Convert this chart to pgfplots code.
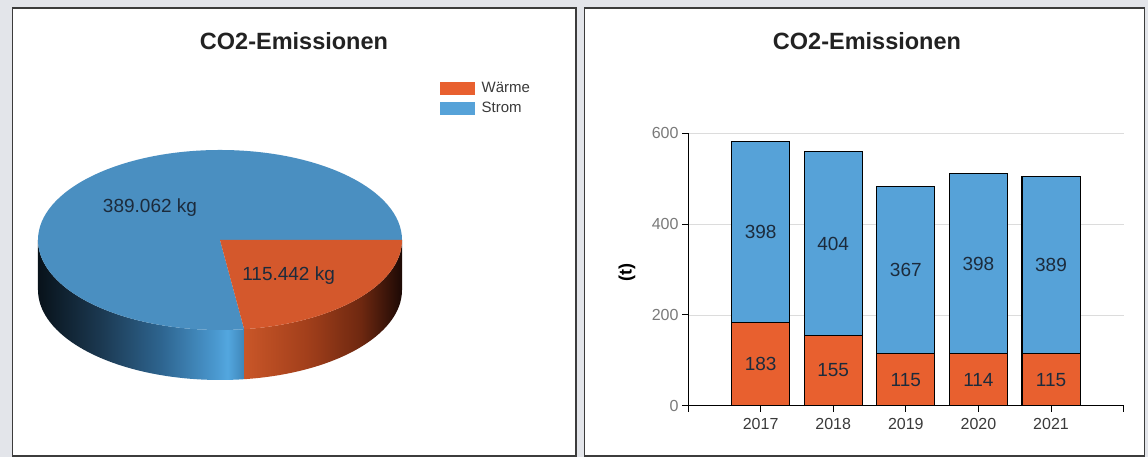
\documentclass[border=0pt]{standalone}
\usepackage{pgfplots}
\pgfplotsset{compat=1.18}
\usepackage{pgfplotstable}
\usepackage{fontspec}
\setmainfont{Liberation Sans}
\pgfplotsset{/pgf/number format/assume math mode=true}
\definecolor{bg}{HTML}{E3E5EA}
\definecolor{frame}{HTML}{3C3C3C}
\definecolor{titlec}{HTML}{222222}
\definecolor{pieblue}{HTML}{4A8FC1}
\definecolor{pieorange}{HTML}{D4582C}
\definecolor{barblue}{HTML}{56A2D8}
\definecolor{barorange}{HTML}{E8602F}
\definecolor{lbl}{HTML}{1C2B3C}
\definecolor{legc}{HTML}{3A3A3A}
\definecolor{xtl}{HTML}{3A3A3A}
\definecolor{ytl}{HTML}{7A7A7A}
\definecolor{gridc}{HTML}{DCDCDC}
\definecolor{sbA}{HTML}{08121A}
\definecolor{sbB}{HTML}{1B3850}
\definecolor{sbC}{HTML}{2E6590}
\definecolor{sbD}{HTML}{4A98CF}
\definecolor{sbE}{HTML}{53A7DF}
\definecolor{sbF}{HTML}{3F86B8}
\definecolor{soA}{HTML}{C95628}
\definecolor{soB}{HTML}{A23F1B}
\definecolor{soC}{HTML}{6E2810}
\definecolor{soD}{HTML}{1C0905}
\pgfdeclarehorizontalshading{blueside}{100bp}{color(0bp)=(sbA); color(25bp)=(sbA); color(40bp)=(sbB); color(55bp)=(sbC); color(68bp)=(sbD); color(71bp)=(sbE); color(75bp)=(sbF); color(100bp)=(sbF)}
\pgfdeclarehorizontalshading{orangeside}{100bp}{color(0bp)=(soA); color(25bp)=(soA); color(45bp)=(soB); color(62bp)=(soC); color(75bp)=(soD); color(100bp)=(soD)}
\newcommand\fs[1]{\fontsize{#1}{#1}\selectfont}

\pgfplotstableread{
part value
Waerme 115.442
Strom 389.062
}\piedata

\pgfplotstableread{
x year w s
0 2017 183 398
1 2018 155 404
2 2019 115 367
3 2020 114 398
4 2021 115 389
}\codata

\begin{document}%
\begin{tikzpicture}[x=1bp,y=1bp]
\pgfplotstablegetelem{0}{value}\of\piedata \let\vW\pgfplotsretval
\pgfplotstablegetelem{1}{value}\of\piedata \let\vS\pgfplotsretval
\pgfmathsetmacro\fracW{\vW/(\vW+\vS)}
\pgfmathsetmacro\angW{360*\fracW}
\pgfmathsetmacro\angB{360-\angW}
\fill[bg] (0,0) rectangle (1148,457);
\filldraw[fill=white, draw=frame, line width=1.5bp] (12.5,1) rectangle (576,449);
\filldraw[fill=white, draw=frame, line width=1.5bp] (584.5,1) rectangle (1144.5,449);
\node[font=\bfseries\fs{23.5bp}, text=titlec] at (294,416) {CO2-Emissionen};
\node[font=\bfseries\fs{23.5bp}, text=titlec] at (867,416) {CO2-Emissionen};
\coordinate (legL) at (440,376);
\coordinate (legR) at (908,375.5);

% ---------- pie ----------
\begin{axis}[at={(0,0)}, anchor=south west, scale only axis,
  width=580bp, height=457bp, xmin=0, xmax=580, ymin=0, ymax=457,
  hide axis, clip=false,
  legend style={at={(legL)}, anchor=north west, draw=none, fill=none,
    inner sep=0pt, row sep=6bp, column sep=7bp, font=\fs{15bp}, text=legc,
    nodes={inner sep=0pt, text height=11bp, text depth=3bp}},
  legend cell align=left]
\coordinate (C) at (axis cs:220,217);
\shade[shading=blueside] ([shift={(180:182bp and 90bp)}]C)
  arc[start angle=180, end angle=\angB, x radius=182bp, y radius=90bp]
  -- ++(0,-50bp)
  arc[start angle=\angB, end angle=180, x radius=182bp, y radius=90bp] -- cycle;
\shade[shading=orangeside] ([shift={(\angB:182bp and 90bp)}]C)
  arc[start angle=\angB, end angle=360, x radius=182bp, y radius=90bp]
  -- ++(0,-50bp)
  arc[start angle=360, end angle=\angB, x radius=182bp, y radius=90bp] -- cycle;
\fill[pieblue] (C) -- ([shift={(0:182bp and 90bp)}]C)
  arc[start angle=0, end angle=\angB, x radius=182bp, y radius=90bp] -- cycle;
\fill[pieorange] (C) -- ([shift={(0:182bp and 90bp)}]C)
  arc[start angle=0, end angle=-\angW, x radius=182bp, y radius=90bp] -- cycle;
\node[font=\fs{19bp}, text=lbl] at (axis cs:150,249) {389.062 kg};
\node[font=\fs{19bp}, text=lbl] at (axis cs:288.6,181) {115.442 kg};
\addlegendimage{legend image code/.code={\fill[barorange] (0bp,-6.2bp) rectangle (34bp,6.2bp);}}
\addlegendentry{Wärme}
\addlegendimage{legend image code/.code={\fill[barblue] (0bp,-6.2bp) rectangle (34bp,6.2bp);}}
\addlegendentry{Strom}
\end{axis}

% ---------- bars ----------
\begin{axis}[at={(688bp,51.3bp)}, anchor=south west, scale only axis,
  width=435.6bp, height=272.4bp,
  xmin=-1, xmax=5, ymin=0, ymax=600,
  axis lines*=left,
  xtick={-1,0,1,2,3,4,5}, xticklabels={,2017,2018,2019,2020,2021,},
  ytick={0,200,400,600},
  tick align=outside, major tick length=6bp,
  ymajorgrids, grid style={gridc, line width=0.7bp},
  axis line style={black, line width=1bp},
  tick style={black, line width=0.8bp},
  xticklabel style={font=\fs{16bp}, text=xtl, yshift=-3bp},
  yticklabel style={font=\fs{16bp}, text=ytl},
  legend columns=2,
  legend style={at={(legR)}, anchor=north west, draw=none, fill=none,
    inner sep=0pt, column sep=6bp, font=\fs{15bp}, text=legc,
    nodes={inner sep=0pt, text height=11bp, text depth=3bp},
    /tikz/every even column/.append style={column sep=21bp}},
  legend cell align=left]
\addplot[ybar, bar width=0.8, bar shift=0pt, fill=barblue, draw=black, line width=1.1bp, forget plot]
  table[x=x, y expr=\thisrow{w}+\thisrow{s}] {\codata};
\addplot[ybar, bar width=0.8, bar shift=0pt, fill=barorange, draw=black, line width=1.1bp, forget plot]
  table[x=x, y=w] {\codata};
\addplot[only marks, mark=none, forget plot, point meta=explicit symbolic, nodes near coords,
  every node near coord/.append style={anchor=center, font=\fs{19bp}, text=lbl}]
  table[x=x, y expr=\thisrow{w}/2, meta=w] {\codata};
\addplot[only marks, mark=none, forget plot, point meta=explicit symbolic, nodes near coords,
  every node near coord/.append style={anchor=center, font=\fs{19bp}, text=lbl}]
  table[x=x, y expr=\thisrow{w}+\thisrow{s}/2, meta=s] {\codata};
\addlegendimage{legend image code/.code={\filldraw[fill=barblue, draw=black, line width=0.9bp] (0bp,-6.2bp) rectangle (34bp,6.2bp);}}
\addlegendentry{Strom}
\addlegendimage{legend image code/.code={\filldraw[fill=barorange, draw=black, line width=0.9bp] (0bp,-6.2bp) rectangle (34bp,6.2bp);}}
\addlegendentry{Wärme}
\end{axis}
\node[rotate=90, font=\bfseries\fs{18bp}, text=black] at (627,184) {(t)};
\pgfresetboundingbox
\useasboundingbox (0,0) rectangle (1148,457);
\end{tikzpicture}%
\end{document}
